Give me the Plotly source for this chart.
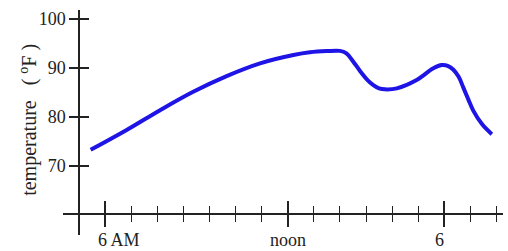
import plotly.graph_objects as go

# Hour-tick index: 0 = 6 AM, 7 = noon, 13 = 6 PM
hour_index = [-0.55, 0.83, 2.11, 3.38, 4.66, 5.94, 7.22, 7.85, 8.5, 9.0, 9.25, 9.5, 9.77,
              10.05, 10.28, 10.5, 10.73, 11.18, 11.94, 12.58, 12.9, 13.15, 13.34, 13.55,
              13.73, 13.92, 14.11, 14.45, 14.82]
temperature = [73.3, 77.35, 81.4, 85.15, 88.35, 90.95, 92.65, 93.2, 93.45, 93.5, 93.0, 91.4,
               89.4, 87.6, 86.5, 85.85, 85.65, 85.85, 87.55, 89.95, 90.6, 90.4, 89.7, 88.2,
               86.0, 83.6, 81.3, 78.5, 76.5]

major_ticks = [0, 7, 13]
major_labels = ["6 AM", "noon", "6"]
label_shift = [14, 0, -5]
minor_ticks = list(range(0, 16))
y_ticks = [70, 80, 90, 100]

FONT = "Liberation Serif, Times New Roman, serif"
AX = "#222222"
x_range = [-1.609, 15.249]
y_range = [55.92, 101.84]
ypos = 0.03636
xpos = 0.09333

fig = go.Figure()
fig.add_trace(go.Scatter(x=hour_index, y=temperature, mode="lines",
                         line=dict(color="rgb(30,20,230)", width=4, shape="spline", smoothing=1.0),
                         hoverinfo="skip", showlegend=False))
fig.add_trace(go.Scatter(x=[None], y=[None], xaxis="x2", yaxis="y2", mode="lines",
                         showlegend=False, hoverinfo="skip"))

common_x = dict(range=x_range, showgrid=False, zeroline=False, anchor="free", position=xpos,
                tickmode="array", tickvals=major_ticks, ticklen=12, tickwidth=1.6, tickcolor=AX,
                showline=True, linecolor=AX, linewidth=1.5, showticklabels=False,
                minor=dict(tickmode="array", tickvals=minor_ticks, ticklen=7, tickwidth=1.4,
                           tickcolor=AX))
common_y = dict(range=y_range, showgrid=False, zeroline=False, anchor="free", position=ypos,
                tickmode="array", tickvals=y_ticks, ticklen=9, tickwidth=1.6, tickcolor=AX,
                showline=True, linecolor=AX, linewidth=1.5)

fig.update_layout(
    width=508, height=251, margin=dict(l=63, r=5, t=10, b=16),
    paper_bgcolor="white", plot_bgcolor="white",
    xaxis=dict(**common_x, ticks="outside", minor_ticks="outside"),
    xaxis2=dict(**common_x, ticks="inside", minor_ticks="inside", overlaying="x"),
    yaxis=dict(**common_y, ticks="outside", showticklabels=True,
               tickfont=dict(family=FONT, size=18, color="#222")),
    yaxis2=dict(**common_y, ticks="inside", showticklabels=False, overlaying="y"),
)

for v, t, s in zip(major_ticks, major_labels, label_shift):
    fig.add_annotation(x=v, xref="x", y=0.03, yref="paper", yanchor="top", xanchor="center",
                       text=t, showarrow=False, xshift=s,
                       font=dict(family=FONT, size=18, color="#222"))

fig.add_annotation(x=-0.08, xref="paper", y=0.511, yref="paper", textangle=-90,
                   text="temperature\u00a0\u00a0\u00a0(\u00a0<sup>o</sup>F\u00a0)",
                   showarrow=False, xanchor="center", yanchor="middle",
                   font=dict(family=FONT, size=20, color="#222"))

fig.write_html("out.html")
